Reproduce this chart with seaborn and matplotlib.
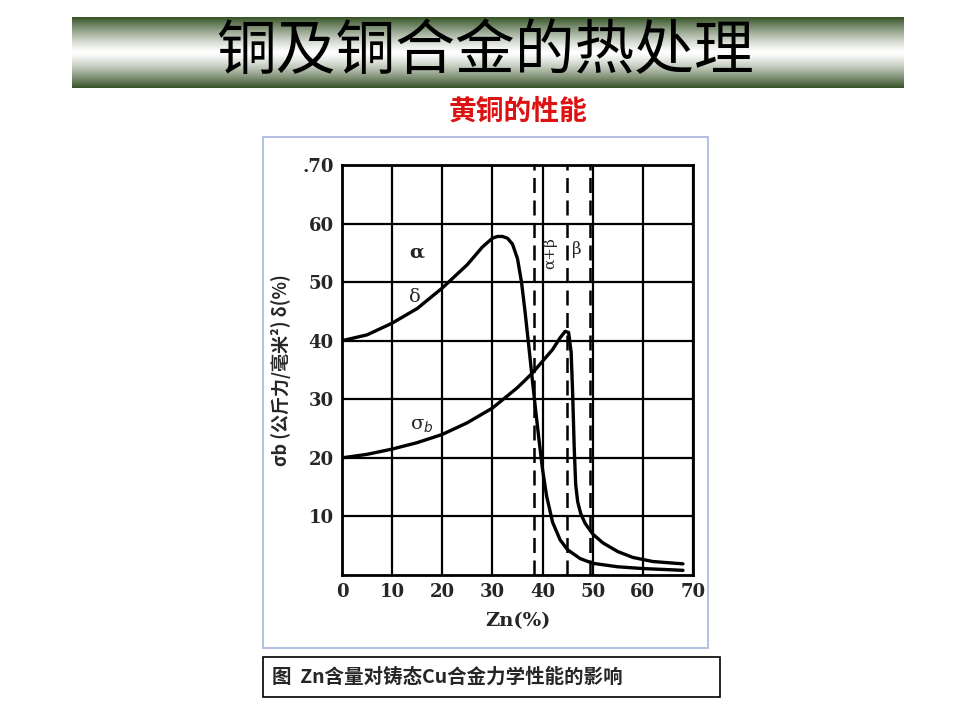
import numpy as np
import pandas as pd
import matplotlib
matplotlib.use("Agg")
import matplotlib.pyplot as plt
from matplotlib.patches import Rectangle
import seaborn as sns

sns.set_style("white")
plt.rcParams["font.family"] = ["Noto Sans CJK SC", "DejaVu Sans"]

# 数据
zn_delta = [0, 5, 10, 15, 20, 25, 28, 30, 31, 32, 33, 34, 35, 35.8, 36.5, 37.2, 38, 38.7, 39.3, 40, 40.8, 42, 43.5, 45, 47.5, 50, 55, 60, 68]
delta = [40, 41, 43, 45.5, 49, 53, 56, 57.5, 57.8, 57.8, 57.5, 56.5, 54, 50, 45, 39.5, 33, 27.5, 23, 18, 13.5, 9, 6, 4.3, 2.8, 2, 1.4, 1.1, 0.8]
zn_sigma = [0, 5, 10, 15, 20, 25, 30, 35, 38, 40, 42, 43.5, 44.5, 45.2, 45.7, 46, 46.3, 46.6, 47, 47.6, 48.5, 50, 52, 55, 58, 62, 68]
sigma = [20, 20.6, 21.5, 22.6, 24, 26, 28.5, 32, 34.5, 36.5, 38.5, 40.5, 41.6, 41.4, 38, 31, 22, 15.5, 12.5, 10.5, 8.8, 7, 5.5, 4, 3, 2.3, 1.9]
phase_lines = [38.2, 44.8, 49.4]
xticks = [0, 10, 20, 30, 40, 50, 60, 70]
yticks = [10, 20, 30, 40, 50, 60, 70]

fig = plt.figure(figsize=(9.6, 7.2), dpi=100)

# 标题栏渐变
bar = fig.add_axes([72 / 960, 1 - 88 / 720, 832 / 960, 71 / 720])
t = np.linspace(-1, 1, 100)
g = np.abs(t) ** 1.3
c0 = np.array([1, 1, 1]); c1 = np.array([0.22, 0.33, 0.16])
img = (c0[None, :] * (1 - g[:, None]) + c1[None, :] * g[:, None])[:, None, :]
bar.imshow(np.repeat(img, 2, axis=1), aspect="auto", extent=[0, 1, 0, 1])
bar.axis("off")
fig.text(0.505, 1 - 52 / 720, "铜及铜合金的热处理", ha="center", va="center", fontsize=43, color="black")
fig.text(0.54, 1 - 112 / 720, "黄铜的性能", ha="center", va="center", fontsize=20,
         color="#dd1111", fontweight="bold")

# 图框
fig.patches.append(Rectangle((263 / 960, 1 - 648 / 720), 445 / 960, 511 / 720, transform=fig.transFigure,
                             fill=False, edgecolor="#a8b4dc", lw=1.2))
fig.patches.append(Rectangle((263 / 960, 1 - 697 / 720), 457 / 960, 40 / 720, transform=fig.transFigure,
                             fill=False, edgecolor="black", lw=1.2))
fig.text(272 / 960, 1 - 677 / 720, "图  Zn含量对铸态Cu合金力学性能的影响", ha="left", va="center",
         fontsize=14, fontweight="bold")

ax = fig.add_axes([342 / 960, 1 - 575 / 720, 351 / 960, 410 / 720])
sns.lineplot(x=zn_delta, y=delta, ax=ax, color="black", lw=2.4)
sns.lineplot(x=zn_sigma, y=sigma, ax=ax, color="black", lw=2.4)
for xv in phase_lines:
    ax.axvline(xv, color="black", lw=1.8, ls=(0, (6, 3)))
ax.set_xlim(0, 70)
ax.set_ylim(0, 70)
ax.set_xticks(xticks)
ax.set_yticks(yticks)
ax.grid(True, color="black", lw=1.6)
for s in ax.spines.values():
    s.set_color("black"); s.set_linewidth(2)
ax.tick_params(length=0, pad=6)
ax.set_xticklabels([str(v) for v in xticks], fontsize=13, fontweight="bold", family="DejaVu Serif")
ax.set_yticklabels([str(v) for v in yticks[:-1]] + [".70"], fontsize=13, fontweight="bold", family="DejaVu Serif")
ax.set_xlabel("Zn(%)", fontsize=14, fontweight="bold", family="DejaVu Serif", labelpad=8)
ax.set_ylabel("σb (公斤力/毫米²) δ(%)", fontsize=13, fontweight="bold", labelpad=8)
ax.text(15, 55, "α", fontsize=14, fontweight="bold", ha="center", va="center", family="DejaVu Serif")
ax.text(14.5, 47.5, "δ", fontsize=14, ha="center", va="center", family="DejaVu Serif")
ax.text(16, 25.5, "σ$_b$", fontsize=14, ha="center", va="center", family="DejaVu Serif")
ax.text(41.5, 55, "α+β", fontsize=11, rotation=90, ha="center", va="center", family="DejaVu Serif")
ax.text(46.8, 55.5, "β", fontsize=12, ha="center", va="center", family="DejaVu Serif")

fig.savefig("out.png", dpi=100)
